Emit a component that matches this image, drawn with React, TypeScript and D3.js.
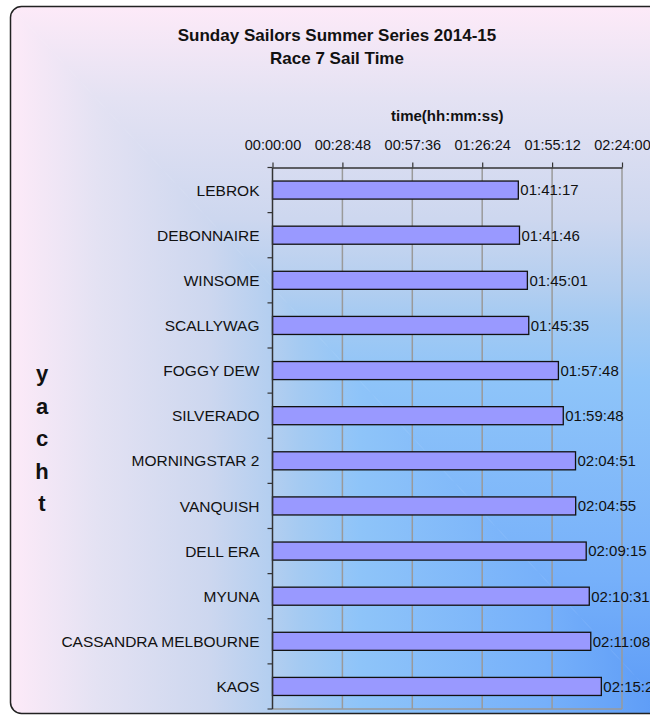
import React, { useEffect, useRef } from "react";
import * as d3 from "d3";

const yachts = [
  "LEBROK",
  "DEBONNAIRE",
  "WINSOME",
  "SCALLYWAG",
  "FOGGY DEW",
  "SILVERADO",
  "MORNINGSTAR 2",
  "VANQUISH",
  "DELL ERA",
  "MYUNA",
  "CASSANDRA MELBOURNE",
  "KAOS",
];
const sailTimes = [
  "01:41:17",
  "01:41:46",
  "01:45:01",
  "01:45:35",
  "01:57:48",
  "01:59:48",
  "02:04:51",
  "02:04:55",
  "02:09:15",
  "02:10:31",
  "02:11:08",
  "02:15:29",
];
const tickSeconds = [0, 1728, 3456, 5184, 6912, 8640];

const toSec = (s: string) => {
  const [h, m, sec] = s.split(":").map(Number);
  return h * 3600 + m * 60 + sec;
};
const fmt = (t: number) => {
  const h = Math.floor(t / 3600);
  const m = Math.floor((t % 3600) / 60);
  const s = t % 60;
  return [h, m, s].map((v) => String(v).padStart(2, "0")).join(":");
};

const FONT = "Liberation Sans, Arial, sans-serif";

const App = () => {
  const ref = useRef<SVGSVGElement>(null);

  useEffect(() => {
    const width = 650;
    const height = 715;
    const plot = { left: 272.5, right: 622, top: 167.5, bottom: 709 };
    const data = yachts.map((name, i) => ({ name, label: sailTimes[i], value: toSec(sailTimes[i]) }));

    const svg = d3.select(ref.current).attr("width", width).attr("height", height);
    svg.selectAll("*").remove();

    // background: rectangular gradient out of the bottom right corner
    const frame = { x0: 10.5, y0: 6.5, x1: 670, y1: 713.5 };
    const defs = svg.append("defs");
    const stops: [number, string][] = [
      [0, "#fdeaf8"],
      [0.13, "#e4e2f3"],
      [0.3, "#cdd7ef"],
      [0.4, "#b2cef0"],
      [0.44, "#a4caf2"],
      [0.53, "#8ec4f9"],
      [0.81, "#76b0fa"],
      [1, "#5b9af6"],
    ];
    const hGrad = defs.append("linearGradient").attr("id", "gh").attr("gradientUnits", "userSpaceOnUse")
      .attr("x1", frame.x0).attr("y1", 0).attr("x2", frame.x1).attr("y2", 0);
    const vGrad = defs.append("linearGradient").attr("id", "gv").attr("gradientUnits", "userSpaceOnUse")
      .attr("x1", 0).attr("y1", frame.y0).attr("x2", 0).attr("y2", frame.y1);
    [hGrad, vGrad].forEach((g) => g.selectAll("stop").data(stops).join("stop")
      .attr("offset", (d) => d[0]).attr("stop-color", (d) => d[1]));

    defs.append("clipPath").attr("id", "frameClip").append("rect")
      .attr("x", frame.x0).attr("y", frame.y0).attr("width", frame.x1 - frame.x0).attr("height", frame.y1 - frame.y0).attr("rx", 11);

    const bg = svg.append("g").attr("clip-path", "url(#frameClip)");
    bg.append("polygon")
      .attr("points", `${frame.x0},${frame.y0} ${frame.x0},${frame.y1} ${frame.x1},${frame.y1}`)
      .attr("fill", "url(#gh)").attr("stroke", "url(#gh)").attr("stroke-width", 1);
    bg.append("polygon")
      .attr("points", `${frame.x0},${frame.y0} ${frame.x1},${frame.y0} ${frame.x1},${frame.y1}`)
      .attr("fill", "url(#gv)");

    svg.append("rect")
      .attr("x", frame.x0).attr("y", frame.y0).attr("width", frame.x1 - frame.x0).attr("height", frame.y1 - frame.y0)
      .attr("rx", 11).attr("fill", "none").attr("stroke", "#222").attr("stroke-width", 1.5);

    const xScale = d3.scaleLinear().domain([0, 8640]).range([plot.left, plot.right]);
    const yScale = d3.scaleBand().domain(yachts).range([plot.top, plot.bottom]).paddingInner(0.6).paddingOuter(0.3);
    const step = yScale.step();

    // grid
    svg.append("g").selectAll("line").data(tickSeconds.slice(1)).join("line")
      .attr("x1", (d) => xScale(d)).attr("x2", (d) => xScale(d))
      .attr("y1", plot.top).attr("y2", plot.bottom)
      .attr("stroke", "#9a9a9a").attr("stroke-width", 1.5);
    svg.append("line").attr("x1", plot.left).attr("x2", plot.right).attr("y1", plot.bottom).attr("y2", plot.bottom)
      .attr("stroke", "#9a9a9a").attr("stroke-width", 1.5);

    // bars
    svg.append("g").selectAll("rect").data(data).join("rect")
      .attr("x", xScale(0)).attr("y", (d) => yScale(d.name)!)
      .attr("width", (d) => xScale(d.value) - xScale(0)).attr("height", yScale.bandwidth())
      .attr("fill", "#9999ff").attr("stroke", "#111").attr("stroke-width", 1.3);

    // top axis
    const xAxis = d3.axisTop(xScale).tickValues(tickSeconds).tickFormat((d) => fmt(+d)).tickSize(5).tickSizeOuter(0).tickPadding(13);
    const gx = svg.append("g").attr("transform", `translate(0, ${plot.top})`).call(xAxis);
    gx.select(".domain").attr("stroke", "#333").attr("stroke-width", 1.5);
    gx.selectAll(".tick line").attr("stroke", "#333").attr("stroke-width", 1.2);
    gx.selectAll("text").attr("fill", "#111").style("font-family", FONT).style("font-size", "14.5px");

    // left axis
    svg.append("line").attr("x1", plot.left).attr("x2", plot.left).attr("y1", plot.top).attr("y2", plot.bottom)
      .attr("stroke", "#333").attr("stroke-width", 1.5);
    svg.append("g").selectAll("line").data(d3.range(yachts.length + 1)).join("line")
      .attr("x1", plot.left - 5).attr("x2", plot.left)
      .attr("y1", (i) => plot.top + i * step).attr("y2", (i) => plot.top + i * step)
      .attr("stroke", "#333").attr("stroke-width", 1.2);
    svg.append("g").selectAll("text").data(yachts).join("text")
      .attr("x", plot.left - 13).attr("y", (d) => yScale(d)! + yScale.bandwidth() / 2)
      .attr("dy", "0.36em").attr("text-anchor", "end")
      .style("font-family", FONT).style("font-size", "15.5px").attr("fill", "#111")
      .text((d) => d);

    // value labels
    svg.append("g").selectAll("text").data(data).join("text")
      .attr("x", (d) => xScale(d.value) + 2).attr("y", (d) => yScale(d.name)! + yScale.bandwidth() / 2)
      .attr("dy", "0.36em")
      .style("font-family", FONT).style("font-size", "15px").attr("fill", "#111")
      .text((d) => d.label);

    // titles
    const title = svg.append("text").attr("text-anchor", "middle").attr("x", 337)
      .style("font-family", FONT).style("font-size", "17px").style("font-weight", "bold").attr("fill", "#111");
    title.append("tspan").attr("x", 337).attr("y", 41).text("Sunday Sailors Summer Series 2014-15");
    title.append("tspan").attr("x", 337).attr("y", 64).text("Race 7 Sail Time");

    svg.append("text").attr("text-anchor", "middle").attr("x", (plot.left + plot.right) / 2).attr("y", 121)
      .style("font-family", FONT).style("font-size", "15px").style("font-weight", "bold").attr("fill", "#111")
      .text("time(hh:mm:ss)");

    svg.append("g").selectAll("text").data("yacht".split("")).join("text")
      .attr("x", 42).attr("y", (d, i) => 381 + i * 32.5).attr("text-anchor", "middle")
      .style("font-family", FONT).style("font-size", "22px").style("font-weight", "bold").attr("fill", "#111")
      .text((d) => d);
  }, []);

  return <svg ref={ref} style={{ position: "absolute", left: 0, top: 0 }} />;
};

export default App;
